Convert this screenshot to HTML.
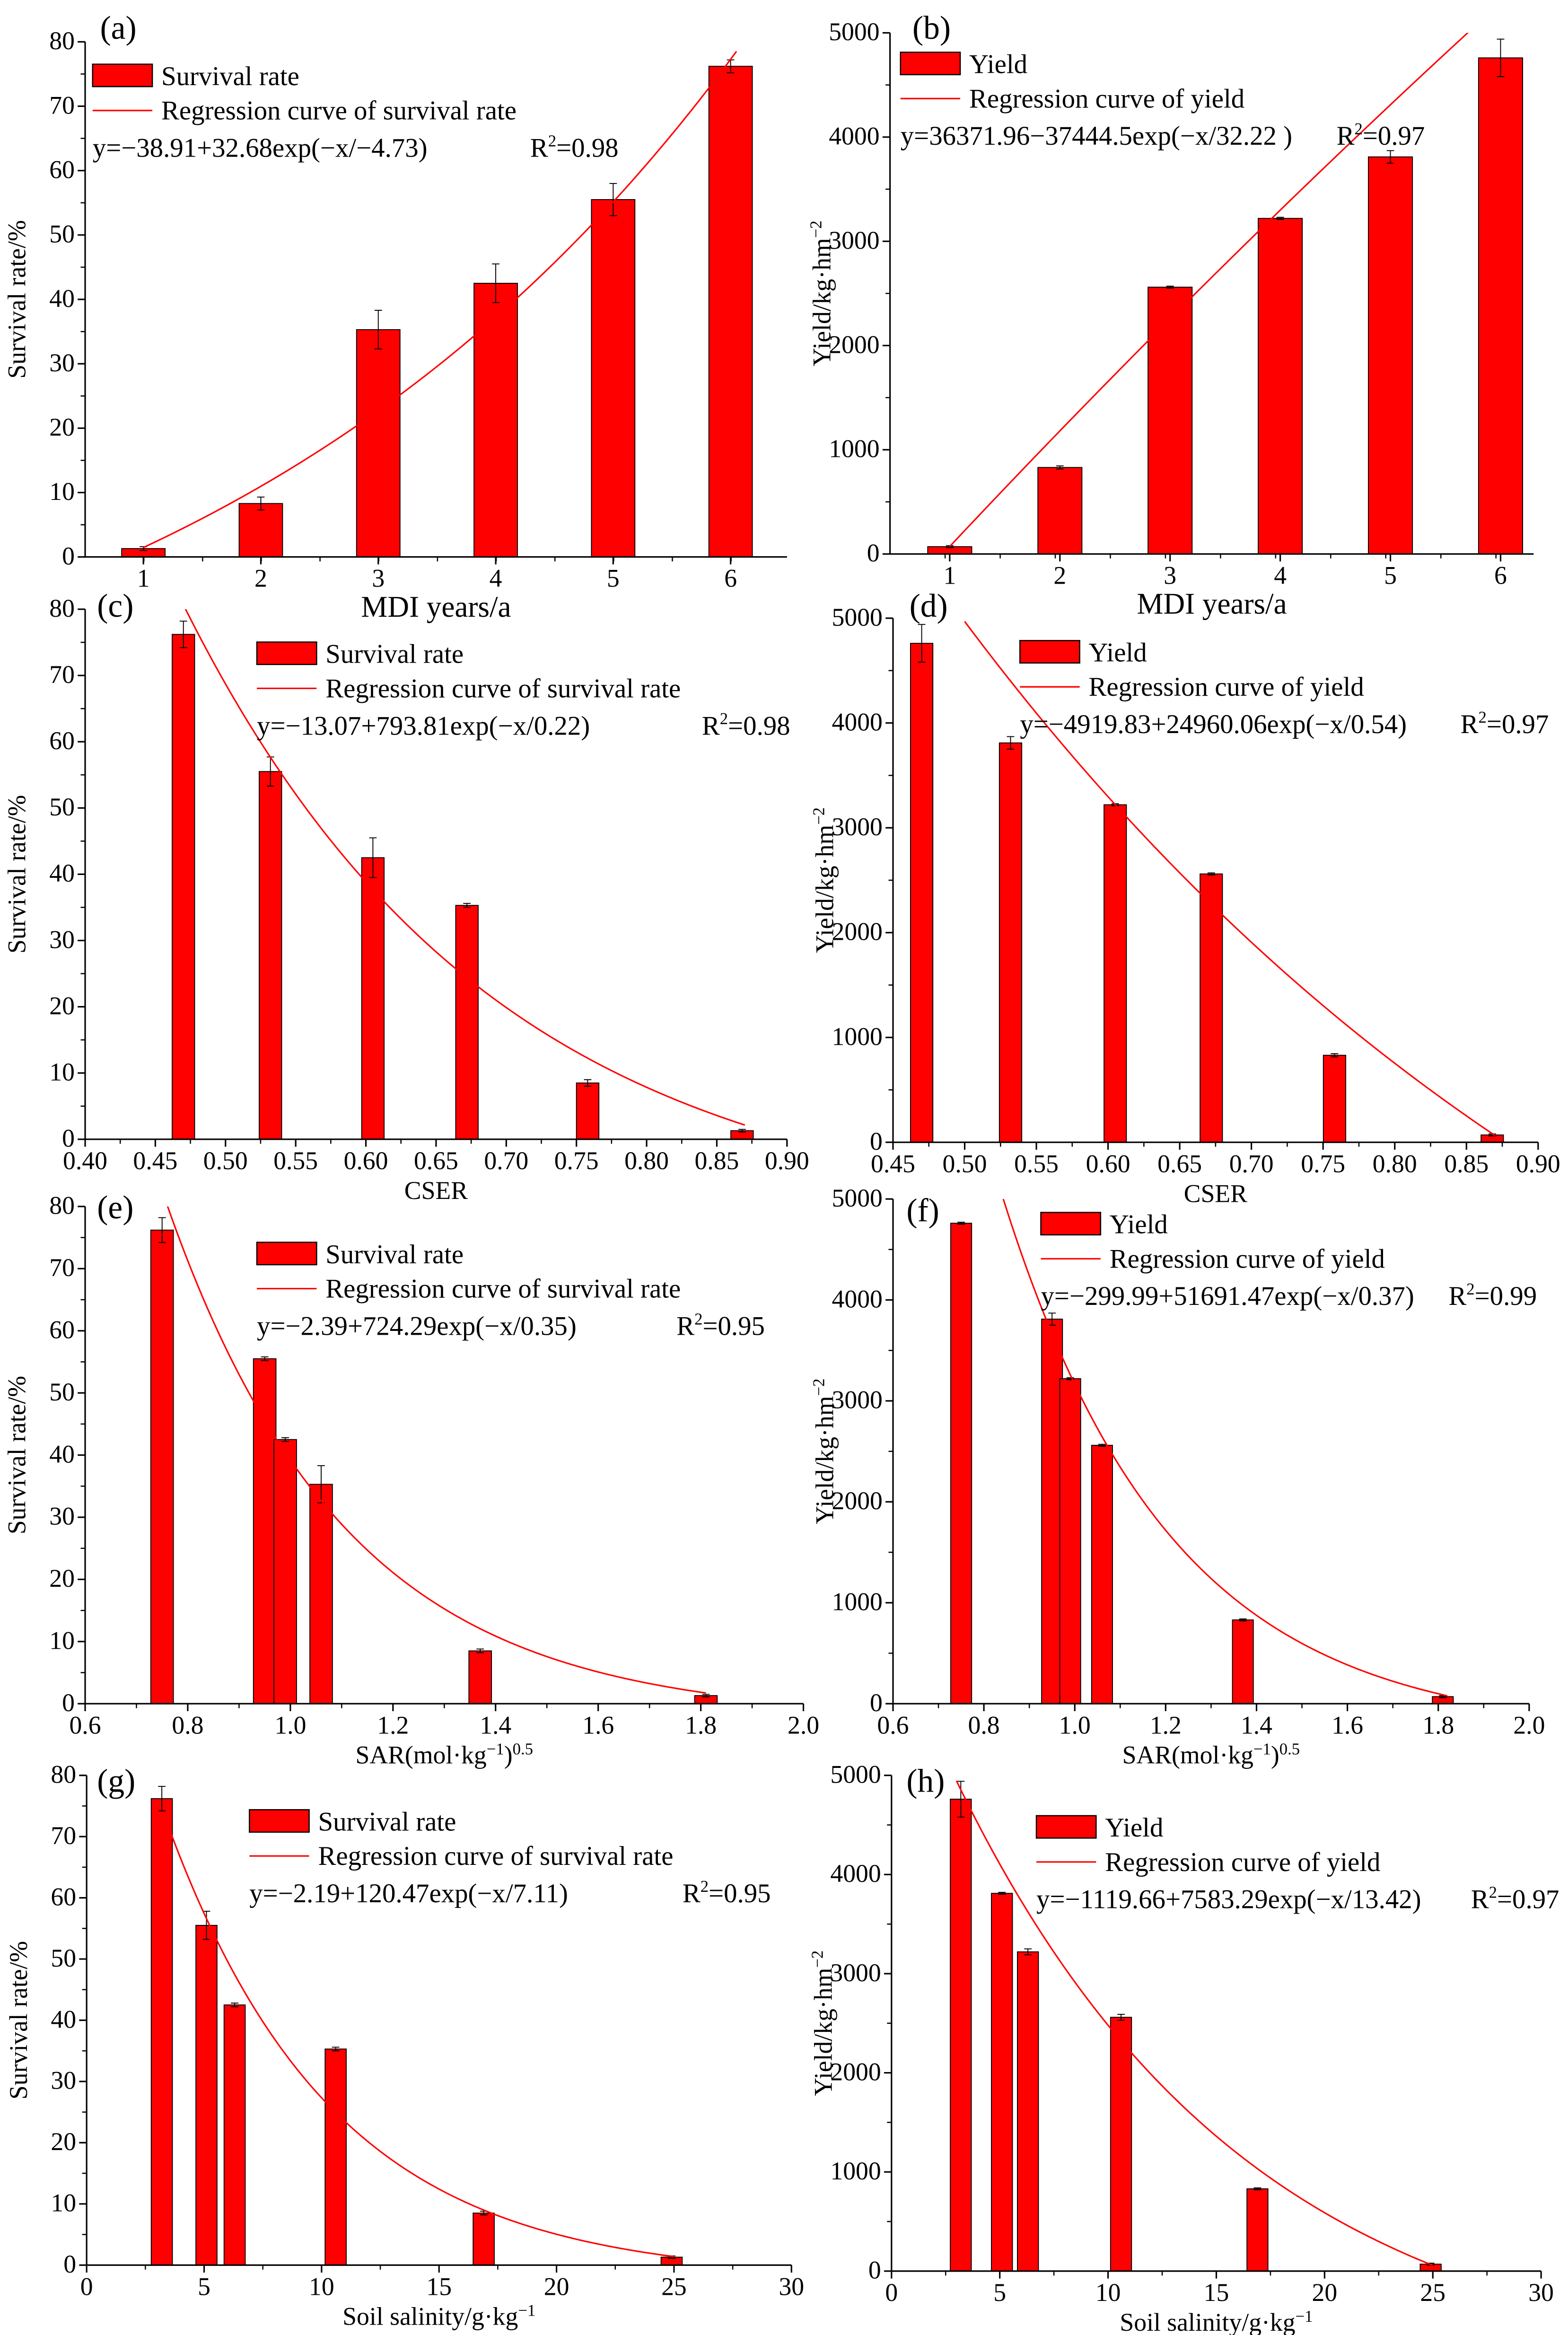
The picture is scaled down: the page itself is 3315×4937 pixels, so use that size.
<!DOCTYPE html>
<html><head><meta charset="utf-8"><style>
html,body{margin:0;padding:0;background:#fff;}
svg{display:block;font-family:"Liberation Serif","DejaVu Serif",serif;}
svg text{font-family:"Liberation Serif","DejaVu Serif",serif;fill:#000;}
</style></head><body>
<svg id="chart" width="3315" height="4937" viewBox="0 0 1050 1563.8" font-family="Liberation Serif, DejaVu Serif, serif" xmlns="http://www.w3.org/2000/svg"></svg>
<script>
// ---- data ----
const mdiYears = [1, 2, 3, 4, 5, 6];
const survival = [1.3, 8.3, 35.3, 42.5, 55.5, 76.2];
const survivalErr = [0.3, 1.0, 3.0, 3.0, 2.5, 1.0];
const yieldVals = [70, 830, 2560, 3220, 3810, 4760];
const yieldErr = [10, 15, 10, 10, 60, 180];
const cserX = [0.47, 0.532, 0.605, 0.672, 0.758, 0.868];
const cserSurv = [76.2, 55.5, 42.5, 35.3, 8.5, 1.3];
const cserYield = [4760, 3810, 3220, 2560, 830, 70];
const sarX = [0.75, 0.95, 0.99, 1.06, 1.37, 1.81];
const salX = [3.2, 5.1, 6.3, 10.6, 16.9, 24.9];
const survTicks = [0, 10, 20, 30, 40, 50, 60, 70, 80];
const yieldTicks = [0, 1000, 2000, 3000, 4000, 5000];
const cserTicks = [0.40, 0.45, 0.50, 0.55, 0.60, 0.65, 0.70, 0.75, 0.80, 0.85, 0.90];
const cserTicksD = [0.45, 0.50, 0.55, 0.60, 0.65, 0.70, 0.75, 0.80, 0.85, 0.90];
const sarTicks = [0.6, 0.8, 1.0, 1.2, 1.4, 1.6, 1.8, 2.0];
const salTicks = [0, 5, 10, 15, 20, 25, 30];

const NS = "http://www.w3.org/2000/svg";
const svg = document.getElementById('chart');
const FF = '"Liberation Serif","DejaVu Serif",serif';
function mk(tag, attrs, parent) {
  const e = document.createElementNS(NS, tag);
  for (const k in attrs) e.setAttribute(k, attrs[k]);
  if (tag === 'text') e.style.fontFamily = FF;
  (parent || svg).appendChild(e);
  return e;
}

const panels = [
 {id:'a', L:57, R:527, T:28, B:373, xmin:0.504, xmax:6.48, ymax:80, xs:mdiYears, ys:survival, err:survivalErr, bw:0.37,
  xt:mdiYears, xfmt:v=>String(v), minorX:0.5, yt:survTicks, minorY:5, fit:x=>-38.91+32.68*Math.exp(x/4.73), fx:[1,6.05],
  xtitle:'MDI years/a', ytitle:'Survival rate/%', label:[67,20], leg:[62,43,'Survival rate','Regression curve of survival rate','y=\u221238.91+32.68exp(\u2212x/\u22124.73)',355], yw:'s'},
 {id:'b', L:596, R:1027, T:22, B:371, xmin:0.458, xmax:6.3, ymax:5000, xs:mdiYears, ys:yieldVals, err:yieldErr, bw:0.4,
  xt:mdiYears, xfmt:v=>String(v), minorX:0.5, yt:yieldTicks, minorY:500, fit:x=>36371.96-37444.5*Math.exp(-x/32.22), fx:[1,6],
  xtitle:'MDI years/a', ytitle:'y', label:[611,20], leg:[603,35,'Yield','Regression curve of yield','y=36371.96\u221237444.5exp(\u2212x/32.22 )',895], yw:'y'},
 {id:'c', L:57, R:527, T:408, B:763, xmin:0.40, xmax:0.90, ymax:80, xs:cserX, ys:cserSurv, err:[2,2.2,3,0.3,0.5,0.2], bw:0.016,
  xt:cserTicks, xfmt:v=>v.toFixed(2), minorX:0.025, yt:survTicks, minorY:5, fit:x=>-13.07+793.81*Math.exp(-x/0.22), fx:[0.47,0.87],
  xtitle:'CSER', ytitle:'Survival rate/%', label:[65,407], leg:[172,430,'Survival rate','Regression curve of survival rate','y=\u221213.07+793.81exp(\u2212x/0.22)',470], yw:'s'},
 {id:'d', L:598, R:1030, T:414, B:765, xmin:0.45, xmax:0.90, ymax:5000, xs:cserX, ys:cserYield, err:[180,60,10,10,15,10], bw:0.0156,
  xt:cserTicksD, xfmt:v=>v.toFixed(2), minorX:0.025, yt:yieldTicks, minorY:500, fit:x=>-4919.83+24960.06*Math.exp(-x/0.54), fx:[0.5,0.87],
  xtitle:'CSER', ytitle:'y', label:[609,407], leg:[683,429,'Yield','Regression curve of yield','y=\u22124919.83+24960.06exp(\u2212x/0.54)',978], yw:'y'},
 {id:'e', L:57, R:538, T:808, B:1141, xmin:0.6, xmax:2.0, ymax:80, xs:sarX, ys:cserSurv, err:[2,0.3,0.3,3,0.3,0.2], bw:0.044,
  xt:sarTicks, xfmt:v=>v.toFixed(1), minorX:0.1, yt:survTicks, minorY:5, fit:x=>-2.39+724.29*Math.exp(-x/0.35), fx:[0.76,1.81],
  xtitle:'SAR', ytitle:'Survival rate/%', label:[65,810], leg:[172,832,'Survival rate','Regression curve of survival rate','y=\u22122.39+724.29exp(\u2212x/0.35)',453], yw:'s'},
 {id:'f', L:598, R:1024, T:803, B:1141, xmin:0.6, xmax:2.0, ymax:5000, xs:sarX, ys:cserYield, err:[10,60,10,10,10,10], bw:0.046,
  xt:sarTicks, xfmt:v=>v.toFixed(1), minorX:0.1, yt:yieldTicks, minorY:500, fit:x=>-299.99+51691.47*Math.exp(-x/0.37), fx:[0.8,1.82],
  xtitle:'SAR', ytitle:'y', label:[607,812], leg:[697,812,'Yield','Regression curve of yield','y=\u2212299.99+51691.47exp(\u2212x/0.37)',970], yw:'y'},
 {id:'g', L:58, R:530, T:1189, B:1517, xmin:0, xmax:30, ymax:80, xs:salX, ys:cserSurv, err:[2,2.3,0.3,0.3,0.3,0.2], bw:0.9,
  xt:salTicks, xfmt:v=>String(v), minorX:2.5, yt:survTicks, minorY:5, fit:x=>-2.19+120.47*Math.exp(-x/7.11), fx:[3.6,25],
  xtitle:'sal', ytitle:'Survival rate/%', label:[65,1194], leg:[167,1212,'Survival rate','Regression curve of survival rate','y=\u22122.19+120.47exp(\u2212x/7.11)',457], yw:'s'},
 {id:'h', L:597, R:1032, T:1189, B:1521, xmin:0, xmax:30, ymax:5000, xs:salX, ys:cserYield, err:[180,10,30,30,10,10], bw:0.97,
  xt:salTicks, xfmt:v=>String(v), minorX:2.5, yt:yieldTicks, minorY:500, fit:x=>-1119.66+7583.29*Math.exp(-x/13.42), fx:[3,25],
  xtitle:'sal', ytitle:'y', label:[607,1194], leg:[694,1216,'Yield','Regression curve of yield','y=\u22121119.66+7583.29exp(\u2212x/13.42)',985], yw:'y'}
];
const r2Vals = {a:'0.98',b:'0.97',c:'0.98',d:'0.97',e:'0.95',f:'0.99',g:'0.95',h:'0.97'};

panels.forEach(p => {
  const g = mk('g', {});
  
  
  const X = v => p.L + (v - p.xmin) / (p.xmax - p.xmin) * (p.R - p.L);
  const Y = v => p.B - v / p.ymax * (p.B - p.T);
  const clipId = 'clip' + p.id;
  const cp = mk('clipPath', {id: clipId}, g);
  mk('rect', {x: p.L, y: p.T, width: p.R - p.L, height: p.B - p.T}, cp);

  p.xs.forEach((xv, i) => {
    const r = mk('rect', {x: X(xv - p.bw/2), y: Y(p.ys[i]), width: X(xv + p.bw/2) - X(xv - p.bw/2), height: p.B - Y(p.ys[i]), fill: '#ff0000', stroke: '#000', 'stroke-width': 0.6}, g);
    
    
    const e = p.err[i];
    const eb = mk('path', {d: `M${X(xv)},${Y(p.ys[i]+e)}V${Y(p.ys[i]-e)}M${X(xv)-2.5},${Y(p.ys[i]+e)}h5M${X(xv)-2.5},${Y(p.ys[i]-e)}h5`, stroke: '#000', 'stroke-width': 0.6, fill: 'none'}, g);
    
    
  });

  let d = '';
  for (let k = 0; k <= 120; k++) {
    const xv = p.fx[0] + (p.fx[1] - p.fx[0]) * k / 120;
    d += (k ? 'L' : 'M') + X(xv).toFixed(2) + ',' + Y(p.fit(xv)).toFixed(2);
  }
  const cv = mk('path', {d: d, stroke: '#ff0000', 'stroke-width': 1, fill: 'none', 'clip-path': `url(#${clipId})`}, g);
  
  

  const ax = mk('path', {d: `M${p.L},${p.T}V${p.B}H${p.R}`, stroke: '#000', 'stroke-width': 1, fill: 'none'}, g);
  
  
  p.yt.forEach(v => {
    mk('line', {x1: p.L - 5, x2: p.L, y1: Y(v), y2: Y(v), stroke: '#000', 'stroke-width': 1}, g);
    const t = mk('text', {x: p.L - 7, y: Y(v) + 5, 'text-anchor': 'end', 'font-size': 17}, g);
    t.textContent = v;
    
    
  });
  for (let v = p.minorY; v < p.ymax; v += p.minorY * 2) mk('line', {x1: p.L - 3, x2: p.L, y1: Y(v), y2: Y(v), stroke: '#000', 'stroke-width': 0.8}, g);
  p.xt.forEach(v => {
    mk('line', {x1: X(v), x2: X(v), y1: p.B, y2: p.B + 5, stroke: '#000', 'stroke-width': 1}, g);
    const t = mk('text', {x: X(v), y: p.B + 20, 'text-anchor': 'middle', 'font-size': 17}, g);
    t.textContent = p.xfmt(v);
    
    
  });
  for (let v = p.xmin + p.minorX; v < p.xmax; v += p.minorX) mk('line', {x1: X(v), x2: X(v), y1: p.B, y2: p.B + 3, stroke: '#000', 'stroke-width': 0.8}, g);

  const cx = (p.L + p.R) / 2;
  const xt = mk('text', {x: cx, y: p.B + 40, 'text-anchor': 'middle', 'font-size': p.xtitle === 'MDI years/a' ? 20 : 17}, g);
  if (p.xtitle === 'SAR') xt.innerHTML = 'SAR(mol·kg<tspan dy="-6" font-size="11">\u22121</tspan><tspan dy="6">)</tspan><tspan dy="-6" font-size="11">0.5</tspan>';
  else if (p.xtitle === 'sal') xt.innerHTML = 'Soil salinity/g·kg<tspan dy="-6" font-size="11">\u22121</tspan>';
  else xt.textContent = p.xtitle;
  
  

  const cy = (p.T + p.B) / 2;
  const yx = p.L - 40;
  const yt = mk('text', {x: yx, y: cy, 'text-anchor': 'middle', 'font-size': 17, transform: `rotate(-90 ${yx} ${cy})`}, g);
  if (p.yw === 'y') yt.innerHTML = 'Yield/kg·hm<tspan dy="-6" font-size="11">\u22122</tspan>';
  else yt.textContent = p.ytitle;
  
  

  const pl = mk('text', {x: p.label[0], y: p.label[1] + 6, 'font-size': 22}, g);
  pl.textContent = '(' + p.id + ')';
  
  

  const [lx, ly, n1, n2, eq, rx] = p.leg;
  const lg = mk('g', {}, g);
  
  
  mk('rect', {x: lx, y: ly, width: 40, height: 15, fill: '#ff0000', stroke: '#000', 'stroke-width': 0.8}, lg);
  const t1 = mk('text', {x: lx + 46, y: ly + 14, 'font-size': 18}, lg);
  t1.textContent = n1;
  
  
  mk('line', {x1: lx, x2: lx + 40, y1: ly + 31, y2: ly + 31, stroke: '#ff0000', 'stroke-width': 1}, lg);
  const t2 = mk('text', {x: lx + 46, y: ly + 37, 'font-size': 18}, lg);
  t2.textContent = n2;
  
  
  const t3 = mk('text', {x: lx, y: ly + 62, 'font-size': 18}, lg);
  t3.textContent = eq;
  
  
  const t4 = mk('text', {x: rx, y: ly + 62, 'font-size': 18}, lg);
  t4.innerHTML = 'R<tspan dy="-7" font-size="11">2</tspan><tspan dy="7">=' + r2Vals[p.id] + '</tspan>';
  
  
});
</script>
</body></html>
